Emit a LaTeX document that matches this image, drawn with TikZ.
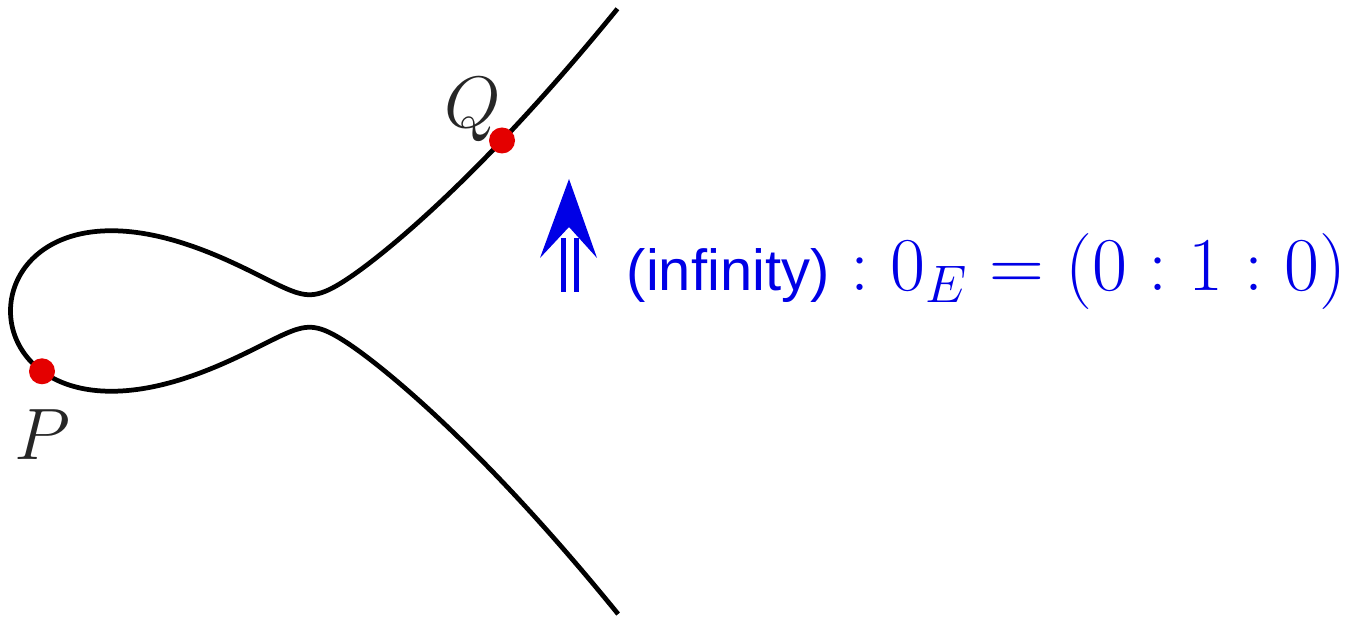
\documentclass[tikz,border=0pt]{standalone}
\usepackage[no-math]{fontspec}
\setsansfont{Liberation Sans}
\usetikzlibrary{positioning}
\definecolor{dotred}{RGB}{228,0,0}
\definecolor{infblue}{RGB}{0,0,230}
\tikzset{
  curve/.style={black, line width=1.35pt},
  pt/.style={circle, fill=dotred, inner sep=0pt, minimum size=0.26cm},
  lbl/.style={black!85, inner sep=0pt, font=\huge},
}
\begin{document}
\begin{tikzpicture}
    \useasboundingbox (0,0) rectangle (13.52,6.18);

    % Kurve
    \draw[curve, smooth, samples=501, domain=-2.465:2.465, variable=\t]
      plot ({0.105+\t*\t}, {3.07+\t*sqrt(0.1588*((\t*\t-3)*(\t*\t-3)+0.0556))});

    % Punkte
    \node[pt] (P) at (0.42,2.467) {};
    \node[pt] (Q) at (5.02,4.775) {};
    \node[lbl, anchor=base] (Plbl) at (0.42,1.59) {$P$};
    \node[lbl, anchor=base] (Qlbl) at (4.73,4.90) {$Q$};

    % Pfeil nach oben
    \coordinate (foot) at (5.70,3.26);
    \coordinate (neck) at (5.70,3.80);
    \draw[infblue, line width=0.05cm, double=white, double distance=0.085cm] (foot) -- (neck);
    \fill[infblue] (5.69,4.39) -- (5.97,3.60) -- (5.69,3.91) -- (5.40,3.60) -- cycle;

    \node[infblue, anchor=base west, inner sep=0pt, font=\huge, scale=1.043] (inf) at (6.26,3.27)
      {$\mbox{\fontsize{15.8}{19}\selectfont\sffamily (infinity)} : 0_E = (0 : 1 : 0)$};

\end{tikzpicture}
\end{document}
